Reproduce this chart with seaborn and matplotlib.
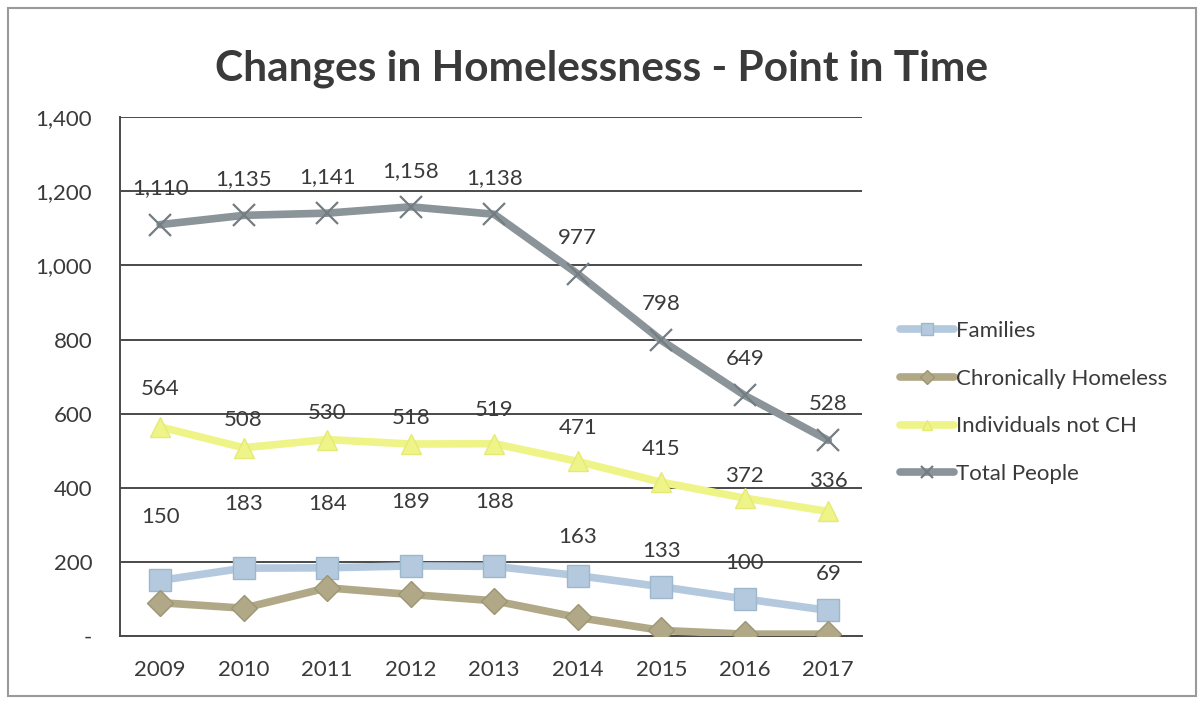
import matplotlib
matplotlib.use("Agg")
import matplotlib.pyplot as plt
import seaborn as sns
import pandas as pd

years = ["2009", "2010", "2011", "2012", "2013", "2014", "2015", "2016", "2017"]
families = [150, 183, 184, 189, 188, 163, 133, 100, 69]
chronically_homeless = [90, 75, 130, 112, 95, 50, 15, 5, 5]
individuals_not_ch = [564, 508, 530, 518, 519, 471, 415, 372, 336]
total_people = [1110, 1135, 1141, 1158, 1138, 977, 798, 649, 528]

series_names = ["Families", "Chronically Homeless", "Individuals not CH", "Total People"]
series_values = [families, chronically_homeless, individuals_not_ch, total_people]

# vertical offset (points) of each data label above its marker; None = no labels
label_offsets = {
    "Families": [46, 46, 46, 46, 46, 28, 26, 26, 26],
    "Chronically Homeless": None,
    "Individuals not CH": [27, 20, 19, 19, 24, 24, 24, 16, 22],
    "Total People": [26, 26, 26, 26, 26, 26, 26, 26, 26],
}

rows = []
for name, vals in zip(series_names, series_values):
    for i, (yr, v) in enumerate(zip(years, vals)):
        rows.append({"idx": i, "year": yr, "value": v, "series": name})
df = pd.DataFrame(rows)

sns.set_theme(style="white")
plt.rcParams["font.family"] = ["Lato", "DejaVu Sans"]

line_colors = {"Families": "#b4c9dd", "Chronically Homeless": "#b0a886",
               "Individuals not CH": "#eff488", "Total People": "#8a9499"}
edge_colors = {"Families": "#9db7cf", "Chronically Homeless": "#9d9675",
               "Individuals not CH": "#e4ea74", "Total People": "#737d82"}
markers = {"Families": "s", "Chronically Homeless": "D",
           "Individuals not CH": "^", "Total People": "x"}
msizes = {"Families": 16, "Chronically Homeless": 13,
          "Individuals not CH": 14, "Total People": 16}
mew = {"Families": 1.0, "Chronically Homeless": 1.0,
       "Individuals not CH": 1.0, "Total People": 1.6}

text_color = "#3a3a3a"

fig = plt.figure(figsize=(12.04, 7.04), dpi=100)
fig.patch.set_facecolor("white")
border = plt.Rectangle((0.007, 0.011), 0.986, 0.978, transform=fig.transFigure,
                       fill=False, edgecolor="#9a9a9a", linewidth=1.5)
fig.add_artist(border)

ax = fig.add_axes([0.0997, 0.0966, 0.616, 0.737])

for name in series_names:
    sub = df[df["series"] == name]
    sns.lineplot(data=sub, x="idx", y="value", ax=ax, color=line_colors[name],
                 linewidth=5.5, marker=markers[name], markersize=msizes[name],
                 markerfacecolor=line_colors[name],
                 markeredgecolor=edge_colors[name], markeredgewidth=mew[name],
                 label=name, zorder=3)
    offs = label_offsets[name]
    if offs is not None:
        for (_, r), off in zip(sub.iterrows(), offs):
            ax.annotate(f"{r['value']:,}", (r["idx"], r["value"]),
                        xytext=(0, off), textcoords="offset points",
                        ha="center", va="center", fontsize=16, color=text_color)

ax.set_ylim(0, 1400)
ax.set_xlim(-0.48, 8.4)
ax.set_yticks(range(0, 1401, 200))
ax.set_yticklabels(["-" if v == 0 else f"{v:,}" for v in range(0, 1401, 200)])
ax.set_xticks(range(len(years)))
ax.set_xticklabels(years)
ax.tick_params(axis="both", labelsize=16, colors=text_color, length=0)
ax.tick_params(axis="y", pad=20)
ax.tick_params(axis="x", pad=17)
ax.set_xlabel("")
ax.set_ylabel("")
ax.grid(axis="y", color="#4a4a4a", linewidth=1.4)
ax.set_axisbelow(True)
for side in ["top", "right"]:
    ax.spines[side].set_visible(False)
for side in ["left", "bottom"]:
    ax.spines[side].set_color("#4a4a4a")
    ax.spines[side].set_linewidth(1.4)

ax.legend(loc="center left", bbox_to_anchor=(1.025, 0.45), frameon=False,
          fontsize=16, labelspacing=1.25, handlelength=2.4, handletextpad=0.1,
          markerscale=0.55, labelcolor=text_color)

fig.text(0.5, 0.903, "Changes in Homelessness - Point in Time", ha="center",
         va="center", fontsize=30.5, fontweight="bold", color=text_color)

fig.savefig("out.png", dpi=100, facecolor="white")
